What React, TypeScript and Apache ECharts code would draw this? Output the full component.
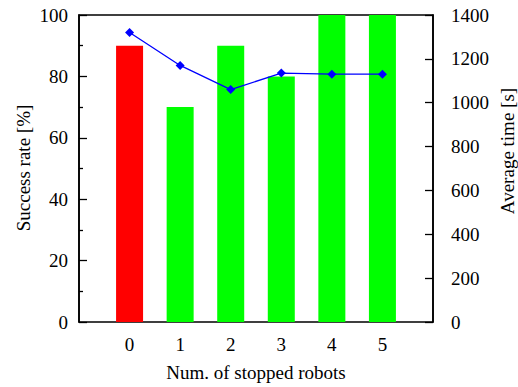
import React, { useEffect, useRef } from "react";
import * as echarts from "echarts";

// Number of stopped robots (x positions)
const stoppedRobots = [0, 1, 2, 3, 4, 5];
// Success rate per configuration [%]
const successRate = [90, 70, 90, 80, 100, 100];
// Average completion time [s]
const averageTime = [1320, 1170, 1060, 1135, 1130, 1130];

const FONT = "Liberation Serif";

export default function App() {
  const ref = useRef<HTMLDivElement>(null);

  useEffect(() => {
    if (!ref.current) return;
    const chart = echarts.init(ref.current, undefined, { renderer: "svg" });

    const barData = stoppedRobots.map((x, i) => ({
      value: [x, successRate[i]],
      itemStyle: { color: i === 0 ? "#ff0000" : "#00ff00" },
    }));
    const lineData = stoppedRobots.map((x, i) => [x, averageTime[i]]);

    const tickStyle = { color: "#000", width: 1.3 };

    chart.setOption({
      animation: false,
      backgroundColor: "#ffffff",
      textStyle: { fontFamily: FONT, color: "#000" },
      grid: {
        left: 79,
        right: 85,
        top: 15,
        bottom: 62,
        show: true,
        borderColor: "#000",
        borderWidth: 1.6,
        backgroundColor: "transparent",
      },
      xAxis: {
        type: "value",
        min: -1,
        max: 6,
        interval: 1,
        axisLine: { show: false, onZero: false },
        axisTick: { show: false },
        splitLine: { show: false },
        axisLabel: {
          margin: 13,
          fontFamily: FONT,
          fontSize: 19,
          color: "#000",
          formatter: (v: number) => (v >= 0 && v <= 5 ? String(v) : ""),
        },
        name: "Num. of stopped robots",
        nameLocation: "middle",
        nameGap: 41,
        nameTextStyle: { fontFamily: FONT, fontSize: 19, color: "#000" },
      },
      yAxis: [
        {
          type: "value",
          min: 0,
          max: 100,
          interval: 20,
          position: "left",
          axisLine: { show: true, onZero: false, lineStyle: { color: "#000", width: 1.6 } },
          axisTick: { show: true, inside: false, length: -8, lineStyle: tickStyle },
          minorTick: { show: true, splitNumber: 2, length: -4, lineStyle: tickStyle },
          splitLine: { show: false },
          axisLabel: {
            margin: 11,
            fontFamily: FONT,
            fontSize: 19,
            color: "#000",
            formatter: (v: number) => String(v),
          },
        },
        {
          type: "value",
          min: 0,
          max: 1400,
          interval: 200,
          position: "right",
          axisLine: { show: true, onZero: false, lineStyle: { color: "#000", width: 1.6 } },
          axisTick: { show: true, inside: false, length: -8, lineStyle: tickStyle },
          splitLine: { show: false },
          axisLabel: {
            margin: 18,
            fontFamily: FONT,
            fontSize: 19,
            color: "#000",
            formatter: (v: number) => String(v),
          },
        },
      ],
      graphic: [
        {
          type: "text",
          x: 23,
          y: 168,
          rotation: Math.PI / 2,
          style: {
            text: "Success rate [%]",
            font: `19px "${FONT}"`,
            fill: "#000",
            align: "center",
            verticalAlign: "middle",
          },
        },
        {
          type: "text",
          x: 507,
          y: 151,
          rotation: Math.PI / 2,
          style: {
            text: "Average time [s]",
            font: `19px "${FONT}"`,
            fill: "#000",
            align: "center",
            verticalAlign: "middle",
          },
        },
      ],
      series: [
        {
          type: "bar",
          xAxisIndex: 0,
          yAxisIndex: 0,
          barWidth: 27,
          data: barData,
          z: 1,
        },
        {
          type: "line",
          xAxisIndex: 0,
          yAxisIndex: 1,
          data: lineData,
          symbol: "diamond",
          symbolSize: 9,
          lineStyle: { color: "#0000ff", width: 1.3 },
          itemStyle: { color: "#0000ff" },
          z: 3,
        },
      ],
    });

    return () => chart.dispose();
  }, []);

  return <div ref={ref} style={{ width: 518, height: 387, position: "absolute", left: 0, top: 0 }} />;
}
